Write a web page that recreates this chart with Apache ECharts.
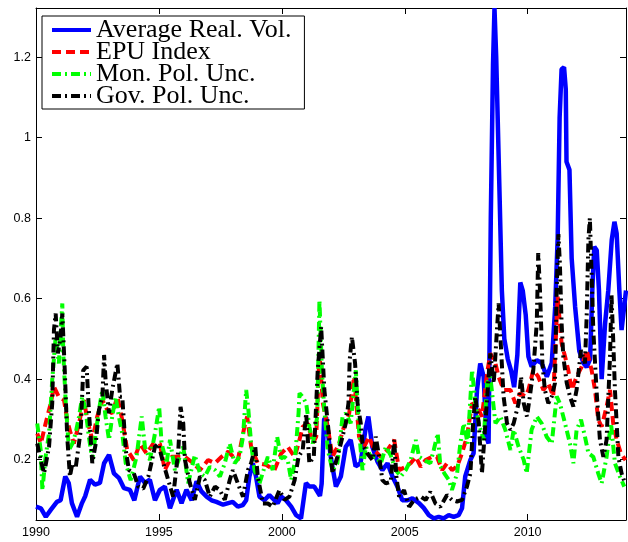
<!DOCTYPE html>
<html><head><meta charset="utf-8">
<script src="https://cdn.jsdelivr.net/npm/echarts@6/dist/echarts.min.js"></script>
<style>html,body{margin:0;padding:0;background:#fff}#c{width:628px;height:542px}</style>
</head><body><div id="c"></div><script>
// ---- data ----
const seriesNames = ['Average Real. Vol.', 'EPU Index', 'Mon. Pol. Unc.', 'Gov. Pol. Unc.'];
const xTickValues = [1990, 1995, 2000, 2005, 2010];
const yTickValues = [0.2, 0.4, 0.6, 0.8, 1, 1.2];

const volYears = [1990.0,1990.2,1990.4,1990.6,1990.85,1991.0,1991.19,1991.33,1991.46,1991.67,1991.87,1992.0,1992.2,1992.4,1992.6,1992.77,1992.97,1993.17,1993.38,1993.58,1993.82,1994.0,1994.23,1994.43,1994.63,1994.84,1995.04,1995.24,1995.45,1995.72,1995.92,1996.12,1996.33,1996.53,1996.73,1996.94,1997.14,1997.34,1997.61,1997.82,1998.0,1998.21,1998.41,1998.55,1998.68,1998.82,1998.95,1999.09,1999.29,1999.49,1999.7,1999.83,1999.97,2000.17,2000.38,2000.58,2000.78,2000.98,2001.12,2001.32,2001.55,2001.62,2001.72,2001.8,2001.99,2002.2,2002.4,2002.6,2002.8,2003.0,2003.2,2003.4,2003.52,2003.68,2003.89,2004.09,2004.3,2004.5,2004.7,2004.9,2005.11,2005.31,2005.58,2005.77,2005.98,2006.18,2006.38,2006.58,2006.79,2006.99,2007.19,2007.33,2007.46,2007.67,2007.8,2007.94,2008.07,2008.21,2008.32,2008.41,2008.5,2008.59,2008.65,2008.72,2008.86,2008.95,2009.05,2009.19,2009.33,2009.45,2009.58,2009.7,2009.8,2009.92,2010.03,2010.16,2010.37,2010.57,2010.78,2010.98,2011.12,2011.22,2011.3,2011.38,2011.48,2011.55,2011.58,2011.7,2011.79,2011.93,2012.1,2012.27,2012.4,2012.54,2012.63,2012.71,2012.81,2012.9,2013.01,2013.15,2013.28,2013.42,2013.53,2013.62,2013.73,2013.82,2014.0];
const volValues = [0.083,0.079,0.058,0.075,0.095,0.099,0.158,0.142,0.092,0.058,0.092,0.109,0.150,0.138,0.142,0.191,0.212,0.166,0.154,0.129,0.125,0.099,0.158,0.142,0.150,0.099,0.125,0.133,0.079,0.125,0.092,0.125,0.099,0.146,0.121,0.108,0.099,0.095,0.088,0.092,0.095,0.083,0.087,0.099,0.158,0.191,0.158,0.108,0.099,0.112,0.099,0.092,0.108,0.099,0.083,0.062,0.054,0.142,0.133,0.133,0.11,0.14,0.30,0.305,0.207,0.133,0.158,0.232,0.249,0.183,0.191,0.274,0.307,0.232,0.195,0.174,0.191,0.158,0.133,0.099,0.099,0.104,0.092,0.080,0.062,0.054,0.058,0.054,0.062,0.058,0.062,0.079,0.158,0.199,0.216,0.373,0.439,0.406,0.257,0.24,0.80,1.18,1.322,1.20,0.85,0.62,0.50,0.45,0.42,0.38,0.46,0.64,0.62,0.56,0.456,0.431,0.447,0.44,0.406,0.44,0.58,0.75,1.05,1.17,1.175,1.12,0.94,0.92,0.70,0.58,0.47,0.44,0.43,0.45,0.621,0.729,0.72,0.621,0.40,0.539,0.621,0.746,0.791,0.762,0.62,0.522,0.62];

const epuYears = [1990.05,1990.2,1990.39,1990.6,1990.73,1990.93,1991.14,1991.27,1991.41,1991.54,1991.75,1991.95,1992.09,1992.29,1992.49,1992.7,1992.9,1993.1,1993.31,1993.51,1993.71,1993.98,1994.23,1994.5,1994.77,1995.04,1995.24,1995.51,1995.79,1996.06,1996.4,1996.67,1997.0,1997.28,1997.55,1997.82,1998.05,1998.21,1998.48,1998.59,1998.75,1999.02,1999.36,1999.7,1999.97,2000.24,2000.52,2000.68,2000.85,2001.06,2001.26,2001.4,2001.53,2001.67,2001.87,2002.06,2002.33,2002.53,2002.74,2002.94,2003.14,2003.35,2003.55,2003.75,2004.03,2004.3,2004.57,2004.77,2005.04,2005.24,2005.45,2005.65,2005.85,2006.11,2006.31,2006.52,2006.72,2006.92,2007.13,2007.33,2007.53,2007.74,2007.94,2008.14,2008.35,2008.48,2008.69,2008.82,2009.02,2009.3,2009.5,2009.7,2009.9,2010.03,2010.23,2010.43,2010.64,2010.84,2011.04,2011.22,2011.31,2011.38,2011.52,2011.65,2011.79,2011.99,2012.2,2012.4,2012.6,2012.74,2012.87,2013.01,2013.21,2013.35,2013.48,2013.62,2013.79,2013.98];
const epuValues = [0.265,0.24,0.29,0.34,0.381,0.356,0.348,0.298,0.265,0.24,0.29,0.348,0.298,0.249,0.307,0.348,0.323,0.315,0.356,0.298,0.224,0.199,0.24,0.215,0.24,0.24,0.174,0.207,0.207,0.207,0.191,0.174,0.199,0.191,0.207,0.22,0.205,0.199,0.282,0.307,0.232,0.191,0.187,0.174,0.215,0.232,0.207,0.24,0.282,0.29,0.24,0.257,0.464,0.34,0.28,0.207,0.24,0.282,0.315,0.406,0.257,0.232,0.257,0.224,0.207,0.224,0.249,0.174,0.182,0.191,0.207,0.182,0.199,0.207,0.207,0.174,0.191,0.174,0.183,0.216,0.257,0.34,0.332,0.307,0.414,0.464,0.439,0.406,0.373,0.373,0.34,0.365,0.357,0.373,0.423,0.406,0.373,0.39,0.357,0.605,0.539,0.489,0.456,0.423,0.373,0.406,0.431,0.472,0.423,0.373,0.299,0.282,0.332,0.373,0.29,0.249,0.216,0.199];

const monYears = [1990.05,1990.19,1990.26,1990.39,1990.53,1990.66,1990.8,1990.93,1991.07,1991.11,1991.21,1991.34,1991.48,1991.61,1991.75,1991.88,1992.02,1992.15,1992.29,1992.43,1992.56,1992.7,1992.83,1992.97,1993.1,1993.24,1993.37,1993.51,1993.65,1993.85,1994.09,1994.3,1994.43,1994.63,1994.84,1995.01,1995.11,1995.31,1995.45,1995.65,1995.85,1995.99,1996.19,1996.46,1996.67,1996.87,1997.07,1997.28,1997.48,1997.68,1997.88,1998.08,1998.28,1998.42,1998.55,1998.64,1998.75,1998.89,1999.09,1999.3,1999.43,1999.63,1999.81,1999.97,2000.11,2000.24,2000.38,2000.52,2000.68,2000.72,2000.85,2000.99,2001.12,2001.26,2001.44,2001.53,2001.63,2001.73,2001.87,2002.06,2002.26,2002.47,2002.6,2002.8,2003.01,2003.14,2003.28,2003.42,2003.62,2003.82,2004.03,2004.23,2004.43,2004.63,2004.84,2005.04,2005.24,2005.45,2005.58,2005.79,2006.04,2006.18,2006.34,2006.45,2006.61,2006.79,2006.92,2007.13,2007.26,2007.4,2007.56,2007.74,2007.87,2008.01,2008.21,2008.35,2008.48,2008.69,2008.89,2009.09,2009.3,2009.43,2009.63,2009.84,2009.96,2010.16,2010.37,2010.57,2010.77,2010.98,2011.18,2011.31,2011.52,2011.72,2011.86,2011.99,2012.17,2012.33,2012.47,2012.67,2012.87,2013.01,2013.21,2013.39,2013.55,2013.75,2013.93];
const monValues = [0.29,0.224,0.124,0.207,0.265,0.398,0.505,0.439,0.588,0.464,0.34,0.224,0.24,0.265,0.307,0.356,0.323,0.257,0.199,0.265,0.323,0.373,0.307,0.249,0.307,0.356,0.307,0.265,0.191,0.149,0.207,0.307,0.232,0.199,0.265,0.331,0.24,0.191,0.249,0.174,0.207,0.232,0.141,0.211,0.166,0.158,0.182,0.174,0.158,0.191,0.24,0.191,0.207,0.257,0.373,0.323,0.24,0.174,0.141,0.182,0.207,0.174,0.257,0.203,0.207,0.199,0.149,0.191,0.315,0.365,0.356,0.34,0.282,0.24,0.307,0.596,0.422,0.323,0.224,0.174,0.191,0.307,0.315,0.29,0.422,0.273,0.174,0.232,0.207,0.207,0.191,0.232,0.211,0.174,0.158,0.174,0.199,0.249,0.207,0.199,0.191,0.224,0.265,0.183,0.166,0.15,0.125,0.166,0.24,0.29,0.24,0.423,0.34,0.29,0.249,0.39,0.406,0.29,0.307,0.274,0.224,0.274,0.232,0.199,0.166,0.274,0.307,0.29,0.257,0.24,0.357,0.34,0.29,0.24,0.191,0.274,0.299,0.257,0.216,0.207,0.166,0.141,0.207,0.29,0.191,0.158,0.133];

const govYears = [1990.05,1990.19,1990.33,1990.53,1990.66,1990.73,1990.8,1990.89,1991.0,1991.07,1991.17,1991.27,1991.38,1991.48,1991.61,1991.82,1991.92,1992.06,1992.15,1992.29,1992.43,1992.56,1992.7,1992.77,1992.83,1992.97,1993.1,1993.31,1993.42,1993.51,1993.65,1993.78,1993.98,1994.16,1994.36,1994.57,1994.84,1994.97,1995.18,1995.38,1995.58,1995.79,1995.88,1995.99,1996.06,1996.26,1996.46,1996.67,1996.87,1997.07,1997.28,1997.48,1997.68,1997.88,1998.01,1998.21,1998.42,1998.62,1998.75,1998.92,1999.02,1999.23,1999.43,1999.63,1999.9,2000.11,2000.31,2000.52,2000.68,2000.85,2000.99,2001.12,2001.3,2001.46,2001.6,2001.73,2001.87,2002.01,2002.06,2002.26,2002.4,2002.6,2002.71,2002.76,2002.85,2002.98,2003.08,2003.21,2003.28,2003.48,2003.69,2003.82,2003.96,2004.09,2004.23,2004.43,2004.57,2004.66,2004.77,2004.97,2005.18,2005.38,2005.65,2005.85,2006.04,2006.25,2006.45,2006.72,2006.92,2007.13,2007.33,2007.53,2007.67,2007.78,2007.87,2008.01,2008.14,2008.28,2008.41,2008.48,2008.62,2008.75,2008.82,2008.92,2009.02,2009.16,2009.3,2009.43,2009.63,2009.73,2009.84,2009.97,2010.09,2010.23,2010.37,2010.43,2010.5,2010.6,2010.7,2010.84,2010.98,2011.11,2011.18,2011.25,2011.31,2011.38,2011.45,2011.59,2011.72,2011.86,2011.99,2012.17,2012.33,2012.4,2012.47,2012.53,2012.6,2012.67,2012.8,2012.94,2013.08,2013.21,2013.35,2013.41,2013.48,2013.55,2013.69,2013.82,2013.96];
const govValues = [0.24,0.199,0.166,0.232,0.34,0.522,0.563,0.464,0.505,0.563,0.422,0.257,0.158,0.191,0.178,0.273,0.422,0.431,0.323,0.191,0.24,0.323,0.356,0.46,0.398,0.315,0.373,0.439,0.356,0.356,0.224,0.174,0.166,0.133,0.128,0.158,0.232,0.24,0.191,0.149,0.108,0.224,0.331,0.29,0.199,0.141,0.1,0.158,0.149,0.108,0.133,0.124,0.1,0.149,0.174,0.141,0.108,0.174,0.191,0.232,0.158,0.091,0.091,0.083,0.124,0.1,0.108,0.149,0.207,0.224,0.315,0.191,0.207,0.422,0.53,0.373,0.29,0.2,0.166,0.207,0.24,0.29,0.34,0.447,0.505,0.439,0.34,0.29,0.24,0.215,0.199,0.257,0.207,0.149,0.141,0.145,0.249,0.158,0.108,0.124,0.083,0.1,0.108,0.1,0.12,0.091,0.083,0.112,0.1,0.096,0.1,0.133,0.166,0.29,0.357,0.29,0.166,0.29,0.406,0.464,0.39,0.522,0.588,0.472,0.357,0.29,0.274,0.29,0.34,0.406,0.34,0.307,0.357,0.423,0.539,0.713,0.622,0.439,0.373,0.34,0.357,0.39,0.622,0.76,0.688,0.539,0.456,0.39,0.357,0.332,0.373,0.472,0.439,0.555,0.746,0.8,0.663,0.522,0.373,0.249,0.207,0.249,0.456,0.61,0.497,0.373,0.207,0.166,0.141];

// ---- chart ----
const pair = (xs, ys) => xs.map((x, i) => [x, ys[i]]);
const axisFont = 'Liberation Sans, Arial, sans-serif';
const chart = echarts.init(document.getElementById('c'), null, {renderer: 'canvas'});

function xAx(pos, showLabel) {
  return {
    type: 'value', min: 1990, max: 2014, position: pos,
    axisLine: {show: true, onZero: false, lineStyle: {color: '#000', width: 1}},
    axisTick: {show: true, inside: true, length: 6, customValues: xTickValues, lineStyle: {color: '#000', width: 1}},
    axisLabel: {show: showLabel, customValues: xTickValues, formatter: v => String(v), color: '#000', fontSize: 12.5, fontFamily: axisFont, margin: 6},
    splitLine: {show: false}
  };
}
function yAx(pos, showLabel) {
  return {
    type: 'value', min: 0.05, max: 1.322, position: pos,
    axisLine: {show: true, onZero: false, lineStyle: {color: '#000', width: 1}},
    axisTick: {show: true, inside: true, length: 6, customValues: yTickValues, lineStyle: {color: '#000', width: 1}},
    axisLabel: {show: showLabel, customValues: yTickValues, formatter: v => String(v), color: '#000', fontSize: 12.5, fontFamily: axisFont, margin: 5},
    splitLine: {show: false}
  };
}

const colors = ['#0000ff', '#ff0000', '#00ff00', '#000000'];
const dashes = ['solid', [9, 5], [9, 4, 2, 4], [9, 4, 2, 4]];
const widths = [4.5, 4, 4, 4];
const datasets = [pair(volYears, volValues), pair(epuYears, epuValues), pair(monYears, monValues), pair(govYears, govValues)];

chart.setOption({
  animation: false,
  backgroundColor: '#fff',
  grid: {left: 36, right: 2, top: 8, bottom: 22, containLabel: false},
  xAxis: [xAx('bottom', true), xAx('top', false)],
  yAxis: [yAx('left', true), yAx('right', false)],
  legend: {
    orient: 'vertical', left: 42, top: 16,
    padding: [1, 13, 0, 8], itemGap: -4, itemWidth: 39, itemHeight: 10,
    backgroundColor: '#fff', borderColor: '#000', borderWidth: 1, borderRadius: 0,
    selectedMode: false,
    itemStyle: {opacity: 0, borderWidth: 0},
    lineStyle: {width: 4, type: 'inherit'},
    textStyle: {fontFamily: 'Liberation Serif, serif', fontSize: 26, color: '#000'},
    data: seriesNames
  },
  series: seriesNames.map((name, i) => ({
    type: 'line', name: name, data: datasets[i],
    xAxisIndex: 0, yAxisIndex: 0,
    symbol: 'none', showSymbol: false, clip: true,
    lineStyle: {color: colors[i], width: widths[i], type: dashes[i]},
    itemStyle: {color: colors[i]},
    z: 2 + i
  }))
});
</script></body></html>
